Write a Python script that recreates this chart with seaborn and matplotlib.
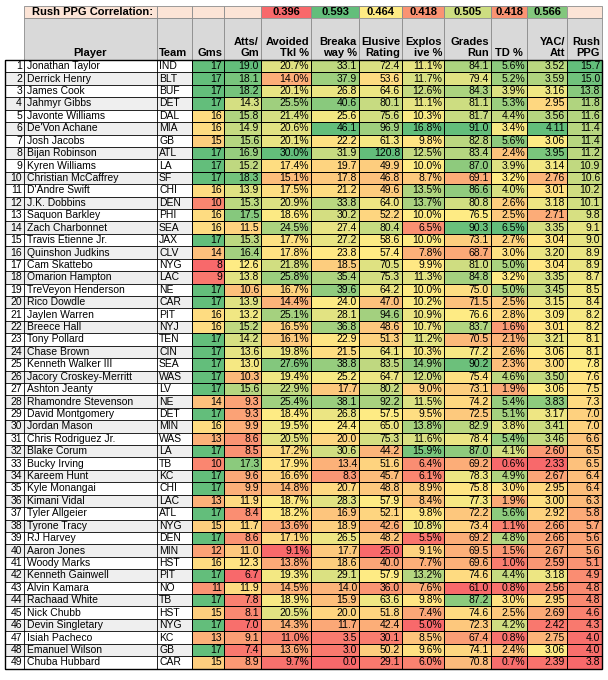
import numpy as np
import seaborn as sns
from matplotlib import pyplot as plt
from matplotlib.colors import LinearSegmentedColormap, TwoSlopeNorm
from matplotlib.patches import Rectangle


players = ["Jonathan Taylor", "Derrick Henry", "James Cook", "Jahmyr Gibbs", "Javonte Williams",
           "De'Von Achane", "Josh Jacobs", "Bijan Robinson", "Kyren Williams", "Christian McCaffrey",
           "D'Andre Swift", "J.K. Dobbins", "Saquon Barkley", "Zach Charbonnet", "Travis Etienne Jr.",
           "Quinshon Judkins", "Cam Skattebo", "Omarion Hampton", "TreVeyon Henderson", "Rico Dowdle",
           "Jaylen Warren", "Breece Hall", "Tony Pollard", "Chase Brown", "Kenneth Walker III",
           "Jacory Croskey-Merritt", "Ashton Jeanty", "Rhamondre Stevenson", "David Montgomery", "Jordan Mason",
           "Chris Rodriguez Jr.", "Blake Corum", "Bucky Irving", "Kareem Hunt", "Kyle Monangai",
           "Kimani Vidal", "Tyler Allgeier", "Tyrone Tracy", "RJ Harvey", "Aaron Jones",
           "Woody Marks", "Kenneth Gainwell", "Alvin Kamara", "Rachaad White", "Nick Chubb",
           "Devin Singletary", "Isiah Pacheco", "Emanuel Wilson", "Chuba Hubbard"]
teams = ["IND", "BLT", "BUF", "DET", "DAL", "MIA", "GB", "ATL", "LA", "SF",
         "CHI", "DEN", "PHI", "SEA", "JAX", "CLV", "NYG", "LAC", "NE", "CAR",
         "PIT", "NYJ", "TEN", "CIN", "SEA", "WAS", "LV", "NE", "DET", "MIN",
         "WAS", "LA", "TB", "KC", "CHI", "LAC", "ATL", "NYG", "DEN", "MIN",
         "HST", "PIT", "NO", "TB", "HST", "NYG", "KC", "GB", "CAR"]
games = [17, 17, 17, 17, 16, 16, 15, 17, 17, 17, 16, 10, 16, 16, 17, 14, 8, 9, 17, 17,
         16, 16, 17, 17, 17, 17, 17, 14, 17, 16, 13, 17, 10, 17, 17, 13, 17, 15, 17, 12,
         16, 17, 11, 17, 15, 17, 13, 17, 15]
atts_per_game = [19.0, 18.1, 18.2, 14.3, 15.8, 14.9, 15.6, 16.9, 15.2, 18.3,
                 13.9, 15.3, 17.5, 11.5, 15.3, 16.4, 12.6, 13.8, 10.6, 13.9,
                 13.2, 15.2, 14.2, 13.6, 13.0, 10.3, 15.6, 9.3, 9.3, 9.9,
                 8.6, 8.5, 17.3, 9.6, 9.9, 11.9, 8.4, 11.7, 8.6, 11.0,
                 12.3, 6.7, 11.9, 7.8, 8.1, 7.0, 9.1, 7.4, 8.9]
avoided_tkl = [20.7, 14.0, 20.1, 25.5, 21.4, 20.6, 20.1, 30.0, 17.4, 15.1,
               17.5, 20.9, 18.6, 24.5, 17.7, 17.8, 21.8, 25.8, 16.7, 14.4,
               25.1, 16.5, 16.1, 19.8, 27.6, 19.4, 22.9, 25.4, 18.4, 19.5,
               20.5, 17.2, 17.9, 16.6, 14.8, 18.7, 18.2, 13.6, 17.1, 9.1,
               13.8, 19.3, 14.5, 18.9, 20.5, 14.3, 11.0, 13.6, 9.7]
breakaway = [33.1, 37.9, 26.8, 40.6, 25.6, 46.1, 22.2, 31.9, 19.7, 17.8,
             21.2, 33.8, 30.2, 27.4, 27.2, 23.8, 18.5, 35.4, 39.6, 24.0,
             28.1, 36.8, 22.9, 21.5, 38.8, 25.2, 17.7, 38.1, 26.8, 24.4,
             20.0, 30.6, 13.4, 8.3, 20.7, 28.3, 16.9, 18.9, 26.5, 17.7,
             18.6, 29.1, 14.0, 15.9, 20.0, 11.7, 3.5, 3.0, 0.0]
elusive = [72.4, 53.6, 64.6, 80.1, 75.6, 96.9, 61.3, 120.8, 49.9, 46.8,
           49.6, 64.0, 52.2, 80.4, 58.6, 57.4, 70.5, 75.3, 64.2, 47.0,
           94.6, 48.6, 51.3, 64.1, 83.5, 64.7, 80.2, 92.2, 57.5, 65.0,
           75.3, 44.2, 51.6, 45.7, 48.8, 57.9, 52.1, 42.6, 48.2, 25.0,
           40.0, 57.9, 36.0, 63.6, 51.8, 42.4, 30.1, 50.2, 29.1]
explosive = [11.1, 11.7, 12.6, 11.1, 10.3, 16.8, 9.8, 12.5, 10.0, 8.7,
             13.5, 13.7, 10.0, 6.5, 10.0, 7.8, 9.9, 11.3, 10.0, 10.2,
             10.9, 10.7, 11.2, 10.3, 14.9, 12.0, 9.0, 11.5, 9.5, 13.8,
             11.6, 15.9, 6.4, 6.1, 8.9, 8.4, 9.8, 10.8, 5.5, 9.1,
             7.7, 13.2, 7.6, 9.8, 7.4, 5.0, 8.5, 9.6, 6.0]
grades_run = [84.1, 79.4, 84.3, 81.1, 81.7, 91.0, 82.8, 83.4, 87.0, 69.1,
              86.6, 80.8, 76.5, 90.3, 73.1, 68.7, 81.0, 84.8, 75.0, 71.5,
              76.6, 83.7, 70.5, 77.2, 90.2, 75.4, 73.1, 74.2, 72.5, 82.9,
              78.4, 87.0, 69.2, 78.3, 75.8, 77.3, 72.2, 73.4, 69.2, 69.5,
              69.6, 74.6, 61.0, 87.2, 74.6, 72.3, 67.4, 74.1, 70.8]
td_pct = [5.6, 5.2, 3.9, 5.3, 4.4, 3.4, 5.6, 2.4, 3.9, 3.2,
          4.0, 2.6, 2.5, 6.5, 2.7, 3.0, 5.0, 3.2, 5.0, 2.5,
          2.8, 1.6, 2.1, 2.6, 2.3, 4.6, 1.9, 5.4, 5.1, 3.8,
          5.4, 4.1, 0.6, 4.9, 3.0, 1.9, 5.6, 1.1, 4.8, 1.5,
          1.0, 4.4, 0.8, 3.0, 2.5, 4.2, 0.8, 2.4, 0.7]
yac_per_att = [3.52, 3.59, 3.16, 2.95, 3.56, 4.11, 3.06, 3.95, 3.14, 2.76,
               3.01, 3.18, 2.71, 3.35, 3.04, 3.20, 3.04, 3.35, 3.45, 3.15,
               3.09, 3.01, 3.21, 3.06, 3.00, 3.50, 3.06, 3.83, 3.17, 3.41,
               3.46, 2.60, 2.33, 2.67, 2.95, 3.00, 2.92, 2.66, 2.66, 2.67,
               2.59, 3.18, 2.56, 2.95, 2.69, 2.42, 2.75, 3.06, 2.39]
rush_ppg = [15.7, 15.0, 13.8, 11.8, 11.6, 11.4, 11.4, 11.2, 10.9, 10.6,
            10.2, 10.1, 9.8, 9.1, 9.0, 8.9, 8.9, 8.7, 8.5, 8.4,
            8.2, 8.2, 8.1, 8.1, 7.8, 7.6, 7.5, 7.3, 7.0, 7.0,
            6.6, 6.5, 6.5, 6.4, 6.4, 6.3, 5.8, 5.7, 5.6, 5.6,
            5.1, 4.9, 4.8, 4.8, 4.6, 4.3, 4.0, 4.0, 3.8]

stat_headers = ["Gms", "Atts/\nGm", "Avoided\nTkl %", "Breaka\nway %", "Elusive\nRating",
                "Explos\nive %", "Grades\nRun", "TD %", "YAC/\nAtt", "Rush\nPPG"]
stat_values = [games, atts_per_game, avoided_tkl, breakaway, elusive,
               explosive, grades_run, td_pct, yac_per_att, rush_ppg]
stat_formats = ["{:.0f}", "{:.1f}", "{:.1f}%", "{:.1f}", "{:.1f}",
                "{:.1f}%", "{:.1f}", "{:.1f}%", "{:.2f}", "{:.1f}"]
ppg_correlation = [None, None, 0.396, 0.593, 0.464, 0.418, 0.505, 0.418, 0.566, None]
title = "Rush PPG Correlation:"

# layout in pixels
W, H = 608, 680
stat_edges = [192, 224, 261, 311, 359, 402, 444, 491, 527, 567, 602]
NUM_X0, PLAYER_X0, TEAM_X0 = 5, 24, 157
TITLE_Y0, HEAD_Y0, ROW_Y0 = 6, 18, 60
ROW_H = 12.42
ROW_Y1 = ROW_Y0 + ROW_H * len(players)
CELL_FS = 7.5

PEACH = "#FCE4D6"
HEAD_GREY = "#D9D9D9"
STRIPE = "#EFEFEF"
EDGE_GREY = "#8C8C8C"

# excel style red - yellow - green colour scale
scale = LinearSegmentedColormap.from_list("excel", ["#F8696B", "#FFEB84", "#63BE7B"])


def excel_norm(values):
    lo, mid, hi = np.min(values), np.median(values), np.max(values)
    if mid >= hi:
        mid = hi - 1e-6 * (hi - lo)
    if mid <= lo:
        mid = lo + 1e-6 * (hi - lo)
    return TwoSlopeNorm(vmin=lo, vcenter=mid, vmax=hi)


def px_axes(fig, x0, x1, y0, y1):
    return fig.add_axes([x0 / W, 1 - y1 / H, (x1 - x0) / W, (y1 - y0) / H])


plt.rcParams['font.family'] = ['Liberation Sans', 'DejaVu Sans']
fig = plt.figure(figsize=(W / 100, H / 100), dpi=100)

# coloured stat columns, one heatmap per column so widths can differ
for i, values in enumerate(stat_values):
    x0, x1 = stat_edges[i], stat_edges[i + 1]
    vals = np.array(values, dtype=float).reshape(-1, 1)
    labels = np.array([[stat_formats[i].format(v)] for v in values])
    ax = px_axes(fig, x0, x1, ROW_Y0, ROW_Y1)
    sns.heatmap(vals, ax=ax, cmap=scale, norm=excel_norm(vals), annot=labels, fmt="",
                cbar=False, linewidths=0.6, linecolor="black",
                xticklabels=False, yticklabels=False,
                annot_kws={"fontsize": CELL_FS, "color": "black"})
    pad = 2.0 / (x1 - x0)
    for t in ax.texts:
        t.set_ha("right")
        t.set_x(1 - pad)

# correlation row
corr_known = [c for c in ppg_correlation if c is not None]
corr_norm = excel_norm(corr_known)
for i, c in enumerate(ppg_correlation):
    if c is None:
        continue
    ax = px_axes(fig, stat_edges[i], stat_edges[i + 1], TITLE_Y0, HEAD_Y0)
    sns.heatmap(np.array([[c]]), ax=ax, cmap=scale, norm=corr_norm,
                annot=np.array([["{:.3f}".format(c)]]), fmt="", cbar=False,
                linewidths=0.6, linecolor=EDGE_GREY, xticklabels=False, yticklabels=False,
                annot_kws={"fontsize": 8, "color": "black", "fontweight": "bold"})

# overlay axes in pixel units for text, stripes and rules
bg = fig.add_axes([0, 0, 1, 1])
bg.set_xlim(0, W)
bg.set_ylim(H, 0)
bg.set_axis_off()
bg.patch.set_alpha(0)
bg.set_zorder(5)

# title row
title_cells = [(PLAYER_X0, TEAM_X0), (TEAM_X0, stat_edges[0])]
title_cells += [(stat_edges[i], stat_edges[i + 1]) for i, c in enumerate(ppg_correlation) if c is None]
for x0, x1 in title_cells:
    bg.add_patch(Rectangle((x0, TITLE_Y0), x1 - x0, HEAD_Y0 - TITLE_Y0,
                           facecolor=PEACH, edgecolor=EDGE_GREY, lw=0.6))
bg.text(PLAYER_X0 + 8, (TITLE_Y0 + HEAD_Y0) / 2, title, ha="left", va="center",
        fontsize=8, fontweight="bold")

# header row
header_edges = [PLAYER_X0, TEAM_X0] + stat_edges
for x0, x1 in zip(header_edges[:-1], header_edges[1:]):
    bg.add_patch(Rectangle((x0, HEAD_Y0), x1 - x0, ROW_Y0 - HEAD_Y0,
                           facecolor=HEAD_GREY, edgecolor=EDGE_GREY, lw=0.6))
bg.text((PLAYER_X0 + TEAM_X0) / 2, ROW_Y0 - 2, "Player", ha="center", va="bottom",
        fontsize=8, fontweight="bold")
bg.text(TEAM_X0 + 2, ROW_Y0 - 2, "Team", ha="left", va="bottom", fontsize=8, fontweight="bold")
for i, head in enumerate(stat_headers):
    x0, x1 = stat_edges[i], stat_edges[i + 1]
    if head == "TD %":
        bg.text((x0 + x1) / 2, ROW_Y0 - 2, head, ha="center", va="bottom",
                fontsize=8, fontweight="bold")
    else:
        bg.text(x1 - 2, ROW_Y0 - 2, head, ha="right", va="bottom", multialignment="right",
                fontsize=8, fontweight="bold", linespacing=1.15)

# player rows
for r, (name, team) in enumerate(zip(players, teams)):
    y0 = ROW_Y0 + r * ROW_H
    yc = y0 + ROW_H / 2
    if r % 2 == 1:
        bg.add_patch(Rectangle((NUM_X0, y0), stat_edges[0] - NUM_X0, ROW_H,
                               facecolor=STRIPE, edgecolor="none", zorder=0))
    bg.text(PLAYER_X0 - 2, yc, str(r + 1), ha="right", va="center", fontsize=CELL_FS)
    bg.text(PLAYER_X0 + 3, yc, name, ha="left", va="center", fontsize=CELL_FS)
    bg.text(TEAM_X0 + 2, yc, team, ha="left", va="center", fontsize=CELL_FS)
    bg.plot([NUM_X0, stat_edges[0]], [y0, y0], color="black", lw=0.6)

for x in [NUM_X0, PLAYER_X0, TEAM_X0, stat_edges[0]]:
    bg.plot([x, x], [ROW_Y0, ROW_Y1], color="black", lw=0.6)

# outer frame of the data block
bg.add_patch(Rectangle((NUM_X0, ROW_Y0), stat_edges[-1] - NUM_X0, ROW_Y1 - ROW_Y0,
                       facecolor="none", edgecolor="black", lw=1.0))

fig.savefig("out.png", dpi=100)
